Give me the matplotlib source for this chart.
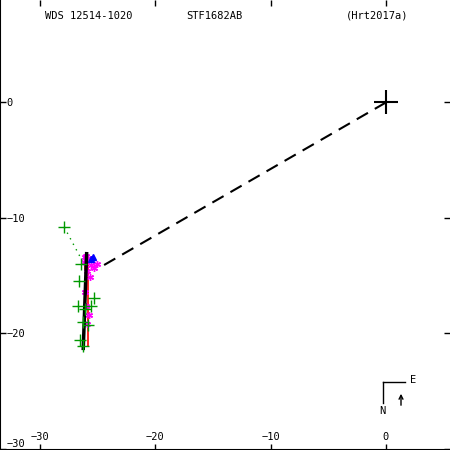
import numpy as np
import matplotlib
matplotlib.use("Agg")
import matplotlib.pyplot as plt

green_x = [-27.9, -26.45, -26.6, -25.3, -26.7, -25.55, -26.1, -26.25, -25.8, -26.5, -26.25]
green_y = [-10.8, -14.0, -15.5, -16.9, -17.6, -17.65, -17.9, -19.0, -19.3, -20.6, -21.1]
magenta_x = [-26.0, -25.8, -26.2, -25.6, -25.9, -25.7, -26.1, -26.05, -25.75, -25.95, -25.1, -25.3, -26.1]
magenta_y = [-13.3, -13.5, -13.8, -14.1, -14.6, -15.1, -16.4, -17.6, -18.4, -19.2, -14.0, -14.3, -13.4]
blue_x = [-25.4, -25.55]
blue_y = [-13.4, -13.6]

# orbit (nearly edge-on) and residual lines
orbit_x = [-25.96, -26.25]
orbit_y = [-13.1, -21.3]
red_segs = [([-25.8, -25.8], [-13.7, -21.1]), ([-26.1, -26.1], [-14.0, -14.5])]
dotted_x = [-27.9, -26.4]
dotted_y = [-10.8, -13.6]
node_x = [0, -25.0]
node_y = [0, -14.4]

xticks = [-30, -20, -10, 0]
yticks = [-30, -20, -10, 0]

fig = plt.figure(figsize=(4.5, 4.5), dpi=100)
ax = fig.add_axes([0, 0, 1, 1])
ax.set_xlim(-33.47, 5.55)
ax.set_ylim(-30.1, 8.87)

ax.plot(node_x, node_y, color='black', lw=1.5, linestyle=(0, (6.2, 3.8)))
ax.plot(dotted_x, dotted_y, color='#009900', lw=1.0, linestyle=(0, (1, 3.5)))
for sx, sy in red_segs:
    ax.plot(sx, sy, color='red', lw=1.2)
ax.plot(magenta_x, magenta_y, linestyle='none', marker=(6, 2, 0), color='magenta', ms=5, mew=1)
ax.plot(blue_x, blue_y, linestyle='none', marker='^', color='blue', ms=4)
ax.plot(orbit_x, orbit_y, color='black', lw=2.5)
ax.plot(green_x, green_y, linestyle='none', marker='+', color='#009900', ms=8, mew=1)
ax.plot([0], [0], marker='+', color='black', ms=17, mew=1.5)

# axes styling
for s in ['top', 'right']:
    ax.spines[s].set_visible(False)
ax.spines['left'].set_linewidth(1.5)
ax.spines['bottom'].set_linewidth(1.5)
ax.set_xticks(xticks)
ax.set_yticks(yticks)
ax.set_xticklabels([str(v).replace('-', '\u2212') for v in xticks])
ax.set_yticklabels([str(v).replace('-', '\u2212') for v in yticks])
ax.tick_params(direction='in', length=4, width=1, top=True, right=True,
               labelsize=7.5)
ax.tick_params(axis='x', pad=-6)
ax.tick_params(axis='y', pad=-4.5)
for lab in ax.get_xticklabels():
    lab.set_va('bottom')
    lab.set_family('DejaVu Sans Mono')
for lab in ax.get_yticklabels():
    lab.set_ha('left')
    lab.set_family('DejaVu Sans Mono')
ax.get_yticklabels()[0].set_va('bottom')

mono = dict(family='DejaVu Sans Mono', fontsize=7.5, transform=ax.transAxes, va='center')
ax.text(45 / 450, 1 - 16 / 450, 'WDS 12514-1020', ha='left', **mono)
ax.text(186 / 450, 1 - 16 / 450, 'STF1682AB', ha='left', **mono)
ax.text(346 / 450, 1 - 16 / 450, '(Hrt2017a)', ha='left', **mono)

# N-E orientation indicator
ax.plot([383 / 450, 405 / 450], [1 - 381.5 / 450, 1 - 381.5 / 450], color='black', lw=1, transform=ax.transAxes)
ax.plot([383 / 450, 383 / 450], [1 - 381.5 / 450, 1 - 403 / 450], color='black', lw=1, transform=ax.transAxes)
ax.text(410 / 450, 1 - 380 / 450, 'E', ha='left', **mono)
ax.text(382 / 450, 1 - 411 / 450, 'N', ha='center', **mono)
ax.annotate('', xy=(401 / 450, 1 - 391 / 450), xytext=(401 / 450, 1 - 408 / 450),
            xycoords='axes fraction', textcoords='axes fraction',
            arrowprops=dict(arrowstyle='->', color='black', lw=1, mutation_scale=7))

fig.savefig('out.png', dpi=100)
